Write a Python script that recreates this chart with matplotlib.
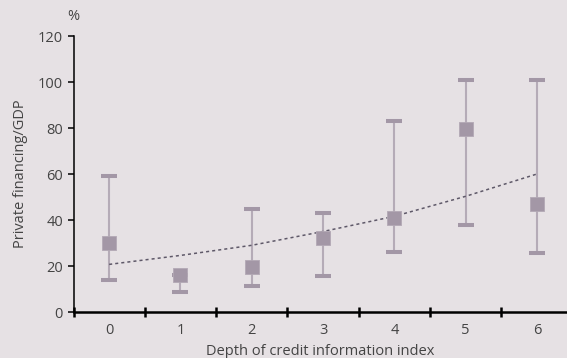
import matplotlib.pyplot as plt
import numpy as np

plt.rcParams["font.family"] = ["Open Sans", "DejaVu Sans"]

depth_index = [0, 1, 2, 3, 4, 5, 6]
mean_financing = [30, 16, 19.5, 32, 41, 79.5, 47]
high_financing = [59, 16, 45, 43, 83, 101, 101]
low_financing = [14, 8.5, 11.5, 15.5, 26, 38, 25.5]
trend_values = [20.7, 24.6, 29.0, 35.0, 41.6, 50.3, 60.0]
y_ticks = [0, 20, 40, 60, 80, 100, 120]

bg = "#e6e1e4"
text_color = "#444444"
marker_color = "#a397a6"
whisker_color = "#b5abb7"

fig = plt.figure(figsize=(5.67, 3.58), dpi=100, facecolor=bg)
ax = fig.add_axes([73.5 / 567, 46 / 358, 1 - 73.5 / 567, (312 - 36) / 358], facecolor=bg)

x = np.array(depth_index)
ax.vlines(x, low_financing, high_financing, color=whisker_color, lw=1.5, zorder=2)
ax.scatter(x, high_financing, marker="_", s=117, linewidths=2.9, color=marker_color, zorder=3)
ax.scatter(x, low_financing, marker="_", s=117, linewidths=2.9, color=marker_color, zorder=3)
ax.scatter(x, mean_financing, marker="s", s=115, color=marker_color,
           edgecolors="#b3a9b5", linewidths=0.6, zorder=4)
ax.plot(x, trend_values, color="#5e5868", lw=1.1, ls=(0, (2, 2)), zorder=3)

ax.set_xlim(-0.5, -0.5 + (567 - 73.5) / 71.3)
ax.set_ylim(0, 120)
ax.set_yticks(y_ticks)
ax.set_xticks(np.arange(-0.5, 6.5, 1.0))
ax.set_xticklabels([])
ax.set_xticks(x, minor=True)
ax.set_xticklabels([str(v) for v in depth_index], minor=True)

for side in ["top", "right"]:
    ax.spines[side].set_visible(False)
ax.spines["left"].set_linewidth(1.1)
ax.spines["bottom"].set_linewidth(1.8)
ax.tick_params(axis="y", direction="out", length=4.5, width=1.1, labelsize=10.5,
               labelcolor=text_color, pad=3)
ax.tick_params(axis="x", which="major", direction="inout", length=7, width=1.8)
ax.tick_params(axis="x", which="minor", length=0, labelsize=10.5,
               labelcolor=text_color, pad=8)

ax.set_xlabel("Depth of credit information index", fontsize=10.5, color=text_color, labelpad=4)
ax.set_ylabel("Private financing/GDP", fontsize=10.5, color=text_color, labelpad=7)
fig.text(73 / 567, 1 - 16 / 358, "%", fontsize=10.5, color=text_color, ha="center", va="center")

fig.savefig("out.png", dpi=100, facecolor=bg)
